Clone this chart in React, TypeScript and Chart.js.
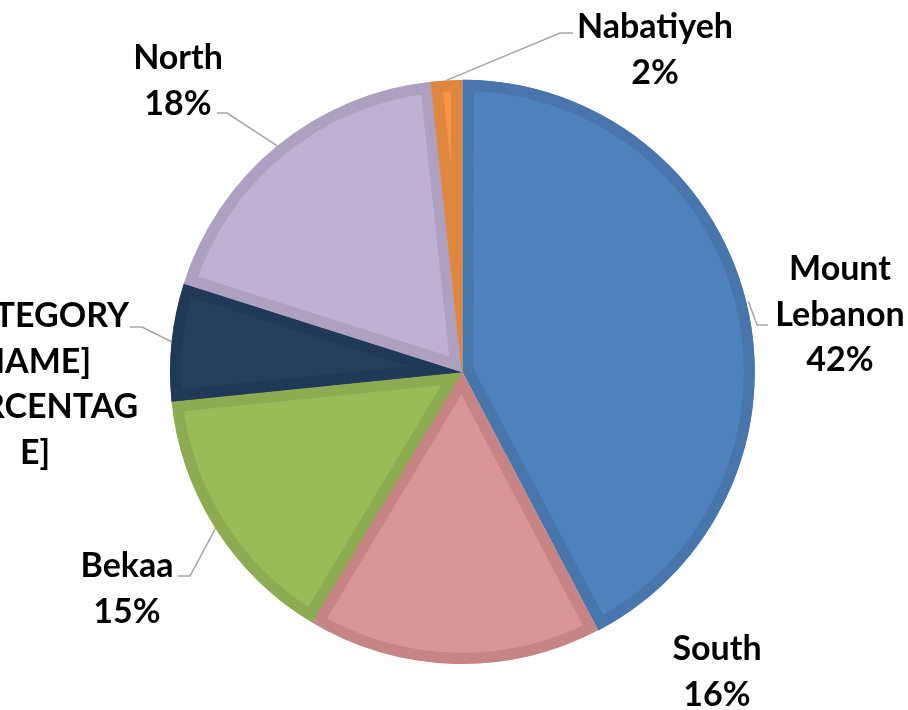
import React, { useEffect, useRef } from "react";
import { Chart, registerables } from "chart.js";

Chart.register(...registerables);

// ---- data ----
const categories = ["Mount Lebanon", "South", "Bekaa", "[CATEGORY NAME]", "North", "Nabatiyeh"];
const values = [42.3, 16.3, 14.8, 6.5, 18.4, 1.7];
const fillColors = ["#4F81BD", "#D99694", "#9BBB59", "#263F60", "#BFB1D4", "#F79646"];
const borderColors = ["#4775AC", "#C68584", "#8DAB51", "#213959", "#ADA0C1", "#E0873F"];
const sliceOffsets = [3, 0, 0, 0, 0, 0];
// label text lines; "{p}" is replaced by the rounded percentage
const labelLines = [
  ["Mount", "Lebanon", "{p}"],
  ["South", "{p}"],
  ["Bekaa", "{p}"],
  ["[CATEGORY", "NAME]", "[PERCENTAG", "E]"],
  ["North", "{p}"],
  ["Nabatiyeh", "{p}"],
];

// label layout relative to pie centre: text centre dx, first baseline dy, leader [start dx, elbow dx, dy] (null = no leader)
const labelLayout: Array<{ dx: number; dy: number; leader: null | [number, number, number] }> = [
  { dx: 378, dy: -92, leader: [306, 295, -47] },
  { dx: 255, dy: 288, leader: null },
  { dx: -335, dy: 205, leader: [-284, -272, 204] },
  { dx: -427, dy: -45, leader: [-332, -320, -45] },
  { dx: -284, dy: -303, leader: [-245, -235, -259] },
  { dx: 193, dy: -334, leader: [111, 98, -339] },
];

const labelPlugin = {
  id: "pieLabels",
  afterDatasetsDraw(chart: any) {
    const ctx = chart.ctx;
    const meta = chart.getDatasetMeta(0);
    const data = chart.data.datasets[0].data as number[];
    const total = data.reduce((a, b) => a + b, 0);
    ctx.save();
    meta.data.forEach((arc: any, i: number) => {
      const { x, y, startAngle, endAngle, outerRadius } = arc.getProps(
        ["x", "y", "startAngle", "endAngle", "outerRadius"],
        true
      );
      const mid = (startAngle + endAngle) / 2;
      const off = sliceOffsets[i] || 0;
      const lay = labelLayout[i];
      if (lay.leader) {
        const [sx, ex, ly] = lay.leader;
        const px = x + Math.cos(mid) * (outerRadius + off);
        const py = y + Math.sin(mid) * (outerRadius + off);
        ctx.beginPath();
        ctx.strokeStyle = "#A6A6A6";
        ctx.lineWidth = 1.5;
        ctx.moveTo(x + sx, y + ly);
        ctx.lineTo(x + ex, y + ly);
        ctx.lineTo(px, py);
        ctx.stroke();
      }
      const pct = Math.round((data[i] / total) * 100) + "%";
      ctx.fillStyle = "#000000";
      ctx.font = "bold 34px Lato";
      ctx.textAlign = "center";
      ctx.textBaseline = "alphabetic";
      labelLines[i].forEach((line, j) => {
        const t = line.replace("{p}", pct);
        ctx.fillText(t, x + lay.dx, y + lay.dy + j * 45.5);
      });
    });
    ctx.restore();
  },
};

export default function App() {
  const ref = useRef<HTMLCanvasElement | null>(null);
  useEffect(() => {
    if (!ref.current) return;
    const chart = new Chart(ref.current, {
      type: "pie",
      data: {
        labels: categories,
        datasets: [
          {
            data: values,
            backgroundColor: fillColors,
            borderColor: borderColors,
            borderWidth: 11,
            borderAlign: "inner",
            offset: sliceOffsets,
          } as any,
        ],
      },
      options: {
        responsive: false,
        animation: false,
        radius: 292,
        layout: { padding: { left: 16, top: 34, right: 0, bottom: 0 } },
        plugins: {
          legend: { display: false },
          tooltip: { enabled: false },
        },
      } as any,
      plugins: [labelPlugin],
    });
    return () => chart.destroy();
  }, []);
  return (
    <div style={{ position: "absolute", left: 0, top: 0, width: 908, height: 710, background: "#ffffff" }}>
      <canvas ref={ref} width={908} height={710} style={{ width: 908, height: 710, display: "block" }} />
    </div>
  );
}
